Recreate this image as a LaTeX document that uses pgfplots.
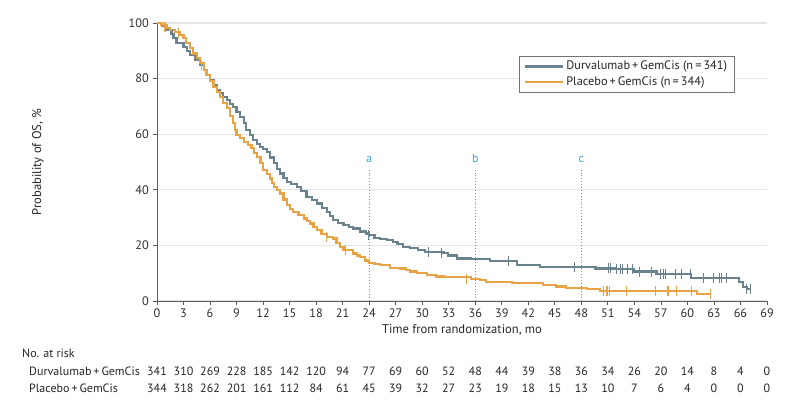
\documentclass[border=0pt]{standalone}
\usepackage{pgfplots}
\pgfplotsset{compat=1.18}
\usepackage{fontspec}
\setmainfont{PT Sans}
\definecolor{durva}{HTML}{6A838F}
\definecolor{plac}{HTML}{E8A444}
\definecolor{cut}{HTML}{45A6D0}
\definecolor{gridc}{HTML}{E4E4E4}
\definecolor{axc}{HTML}{5A5A5A}
\newcommand{\arm}[1]{#1\,+\,GemCis}
\begin{document}
\fontsize{12}{14}\selectfont
\begin{tikzpicture}[x=1pt,y=1pt]
\path[use as bounding box] (0,0) rectangle (800,408);
\begin{axis}[
  at={(157pt,107pt)}, anchor=south west,
  scale only axis, width=610pt, height=278pt,
  xmin=0, xmax=69, ymin=0, ymax=100,
  xtick={0,3,...,69}, ytick={0,20,...,100},
  axis x line*=bottom, axis y line*=left,
  axis line style={-, axc, line width=0.8pt},
  tick style={axc, line width=0.8pt},
  tick align=outside, major tick length=4pt,
  ymajorgrids, grid style={gridc, line width=1.2pt},
  /pgf/number format/assume math mode=true,
  ticklabel style={font=\fontsize{12.3}{14}\selectfont, text=black!82},
  xlabel={Time from randomization, mo},
  ylabel={Probability of OS, \%},
  label style={font=\fontsize{12.6}{14}\selectfont, text=black!85},
  xlabel style={at={(axis description cs:0.5,-0.103)}, anchor=center},
  ylabel style={at={(axis description cs:-0.195,0.5)}, anchor=center},
  legend style={at={(axis description cs:0.593,0.882)}, anchor=north west,
    draw=black!55, line width=0.8pt, inner xsep=5pt, inner ysep=3pt,
    font=\fontsize{12.3}{14}\selectfont, row sep=1pt, text=black!85},
  legend cell align=left,
  legend image code/.code={\draw[#1] (0pt,0pt) -- (38pt,0pt);},
  clip=false,
]
% landmark time points
\addplot[cut, dotted, line width=0.9pt, forget plot] coordinates {(24,0) (24,47)};
\addplot[cut, dotted, line width=0.9pt, forget plot] coordinates {(36,0) (36,47)};
\addplot[cut, dotted, line width=0.9pt, forget plot] coordinates {(48,0) (48,47)};
\node[text=cut, anchor=base] at (axis cs:24,50) {a};
\node[text=cut, anchor=base] at (axis cs:36,50) {b};
\node[text=cut, anchor=base] at (axis cs:48,50) {c};

% Durvalumab + GemCis
\addplot[const plot, durva, line width=2.2pt] coordinates {
(0,100) (0.6,99) (1.1,97.5) (1.6,96) (1.9,94.5) (2.2,92.7) (3.0,91.5) (3.4,90)
(3.7,88.5) (4.3,86.8) (4.9,84.9) (5.3,83) (5.6,81.3) (6.0,79.5) (6.4,77.7)
(6.8,76) (7.1,74.7) (7.5,73.5) (7.9,72.3) (8.3,71) (8.6,69.9) (9.0,68)
(9.4,66.3) (9.8,64) (10.1,61.5) (10.5,59.6) (10.9,57.9) (11.3,56.5) (11.65,55.5)
(12.0,54.6) (12.4,53.7) (12.8,51.6) (13.2,49.5) (13.6,47.6) (13.9,45.9)
(14.3,44.3) (14.7,42.9) (15.2,42) (15.8,41.1) (16.3,39.5) (16.9,37.5)
(17.5,36.2) (18.1,35.1) (18.7,33.5) (19.2,32.1) (19.6,30.6) (19.9,29.1)
(20.5,28.2) (21.1,27.3) (21.7,26.6) (22.2,26.1) (23.0,25) (23.6,24.3)
(24.0,23.7) (24.6,22.8) (25.2,22.2) (26.0,21.8) (26.7,21.1) (27.2,20.4)
(27.8,19.5) (28.6,19.0) (29.5,18.3) (30.3,17.6) (32.4,17.2) (32.9,16.4)
(33.9,15.3) (35.5,15.0) (37.7,14.4) (40.7,12.9) (43.3,12.3) (49.6,11.7)
(51.8,11.4) (54.0,10.6) (56.5,9.6) (60.4,8.4) (65.8,6.9) (66.3,5.1)
(66.7,4.3) (67.1,4.3)
};
\addlegendentry{\arm{Durvalumab} (n\,=\,341)}

% Placebo + GemCis
\addplot[const plot, plac, line width=2.2pt] coordinates {
(0,100) (0.5,99.3) (1.1,98.3) (1.5,97.5) (2.0,96.9) (2.6,95.8) (3.0,94.5)
(3.3,92.7) (3.7,90.9) (4.1,89) (4.5,87.3) (4.9,85.5) (5.3,83) (5.6,81.3)
(6.0,79.2) (6.4,77.1) (6.8,75.2) (7.1,73.5) (7.5,71.2) (7.9,69.3) (8.3,66.5)
(8.6,63.9) (8.8,61.5) (9.0,59.7) (9.4,58.5) (9.8,57.3) (10.3,56) (10.7,54.9)
(11.0,53.3) (11.3,51.9) (11.7,49.5) (12.0,47.1) (12.4,45.6) (12.8,44.1)
(13.0,42.5) (13.2,41.1) (13.6,39.9) (13.9,38.7) (14.3,36.5) (14.7,34.5)
(15.0,33.2) (15.4,32.1) (16.0,30.9) (16.6,29.7) (17.0,28.8) (17.3,27.9)
(17.7,26.7) (18.1,25.5) (18.6,24.2) (19.2,23.1) (19.9,22.5) (20.3,21)
(20.7,19.5) (21.1,18.3) (22.2,17.1) (22.6,16.4) (23.0,15.9) (23.5,14.6)
(24.0,13.8) (24.6,13.2) (25.2,12.9) (26.4,12.0) (27.5,11.7) (28.2,11.2)
(28.6,10.6) (29.4,10.1) (30.5,9.4) (31.6,8.8) (32.4,8.5) (35.5,8.0)
(36.5,7.6) (37.2,6.9) (40.2,6.4) (43.7,5.8) (45.1,5.2) (46.3,4.6)
(48.6,4.2) (50.1,3.7) (61.1,2.5) (62.6,2.5)
};
\addlegendentry{\arm{Placebo} (n\,=\,344)}

% censored observations
\addplot[only marks, mark=|, mark size=5pt, durva, mark options={line width=1.1pt}, forget plot] coordinates {
(1.8,96) (23.9,23.7) (30.7,17.6) (32.2,17.2) (39.8,14.4) (47.2,12.3)
(51.1,11.7) (51.3,11.7) (52.0,11.4) (52.4,11.4) (52.7,11.4) (53.2,11.4)
(53.8,11.4) (54.6,10.6) (55.9,10.6) (57.0,9.6) (57.3,9.6) (57.5,9.6)
(58.7,9.6) (59.3,9.6) (60.3,9.6) (61.8,8.4) (62.9,8.4) (63.6,8.4)
(63.9,8.4) (64.4,8.4) (66.7,4.3) (67.1,4.3)
};
\addplot[only marks, mark=|, mark size=5pt, plac, mark options={line width=1.1pt}, forget plot] coordinates {
(0.9,98.5) (2.4,96.5) (5.0,85) (19.2,23.1) (21.3,18.3) (35.0,8.0)
(50.5,3.7) (50.9,3.7) (51.2,3.7) (53.1,3.7) (56.4,3.7) (57.8,3.7)
(58.8,3.7) (60.5,3.7) (62.6,2.5)
};
\end{axis}

% number at risk
\node[anchor=base west, text=black!85] at (18,50.5) {No. at risk};
\node[anchor=base west, text=black!85] at (25,32.5) {\arm{Durvalumab}};
\node[anchor=base west, text=black!85] at (25,15.5) {\arm{Placebo}};
\foreach \t/\n in {0/341,3/310,6/269,9/228,12/185,15/142,18/120,21/94,24/77,
  27/69,30/60,33/52,36/48,39/44,42/39,45/38,48/36,51/34,54/26,57/20,60/14,
  63/8,66/4,69/0}
  \node[anchor=base, text=black!85] at ({157+8.8406*\t},32.5) {\n};
\foreach \t/\n in {0/344,3/318,6/262,9/201,12/161,15/112,18/84,21/61,24/45,
  27/39,30/32,33/27,36/23,39/19,42/18,45/15,48/13,51/10,54/7,57/6,60/4,
  63/0,66/0,69/0}
  \node[anchor=base, text=black!85] at ({157+8.8406*\t},15.5) {\n};
\end{tikzpicture}
\end{document}
